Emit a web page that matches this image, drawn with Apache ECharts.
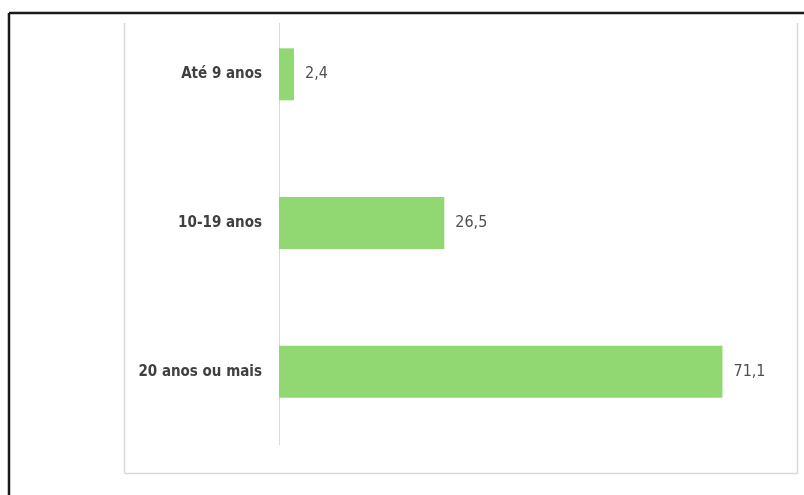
<!DOCTYPE html>
<html>
<head>
<meta charset="utf-8">
<script src="https://cdn.jsdelivr.net/npm/echarts@6/dist/echarts.min.js"></script>
<style>
  html, body { margin: 0; padding: 0; background: #fff; }
  #main { width: 804px; height: 495px; }
</style>
</head>
<body>
<div id="main"></div>
<script>
// categories (top to bottom) and percentages
let faixas = ['Até 9 anos', '10-19 anos', '20 anos ou mais'];
let valores = [2.4, 26.5, 71.1];

let myChart = echarts.init(document.getElementById('main'));

let labelFont = '"Liberation Sans Narrow", "DejaVu Sans Condensed", sans-serif';

let option = {
    backgroundColor: '#ffffff',
    animation: false,
    grid: {
        left: 279,
        top: -6,
        width: 499,
        height: 452,
        containLabel: false
    },
    xAxis: {
        type: 'value',
        min: 0,
        max: 80,
        show: false
    },
    yAxis: {
        type: 'category',
        data: faixas,
        inverse: true,
        axisLine: { show: false },
        axisTick: { show: false },
        splitLine: { show: false },
        axisLabel: {
            margin: 17,
            color: '#404040',
            fontFamily: labelFont,
            fontWeight: 'bold',
            fontSize: 15
        }
    },
    series: [
        {
            type: 'bar',
            data: valores,
            barWidth: 52,
            itemStyle: { color: '#92d872' },
            label: {
                show: true,
                position: 'right',
                distance: 11,
                color: '#505050',
                fontFamily: labelFont,
                fontSize: 16,
                formatter: p => String(p.value).replace('.', ',')
            }
        }
    ],
    graphic: [
        // outer dark frame (top and left edges visible)
        { type: 'line', shape: { x1: 9, y1: 13, x2: 804, y2: 13 }, style: { stroke: '#1a1a1a', lineWidth: 2.5 } },
        { type: 'line', shape: { x1: 9, y1: 13, x2: 9, y2: 495 }, style: { stroke: '#1a1a1a', lineWidth: 2.5 } },
        // light chart-area box
        { type: 'line', shape: { x1: 124.5, y1: 23, x2: 124.5, y2: 473.5 }, style: { stroke: '#d9d9d9', lineWidth: 1.5 } },
        { type: 'line', shape: { x1: 124.5, y1: 473.5, x2: 797.5, y2: 473.5 }, style: { stroke: '#d9d9d9', lineWidth: 1.5 } },
        { type: 'line', shape: { x1: 797.5, y1: 23, x2: 797.5, y2: 473.5 }, style: { stroke: '#d9d9d9', lineWidth: 1.5 } },
        // vertical category axis line
        { type: 'line', shape: { x1: 279.5, y1: 23, x2: 279.5, y2: 445 }, style: { stroke: '#d9d9d9', lineWidth: 1 } }
    ]
};
myChart.setOption(option);
</script>
</body>
</html>
